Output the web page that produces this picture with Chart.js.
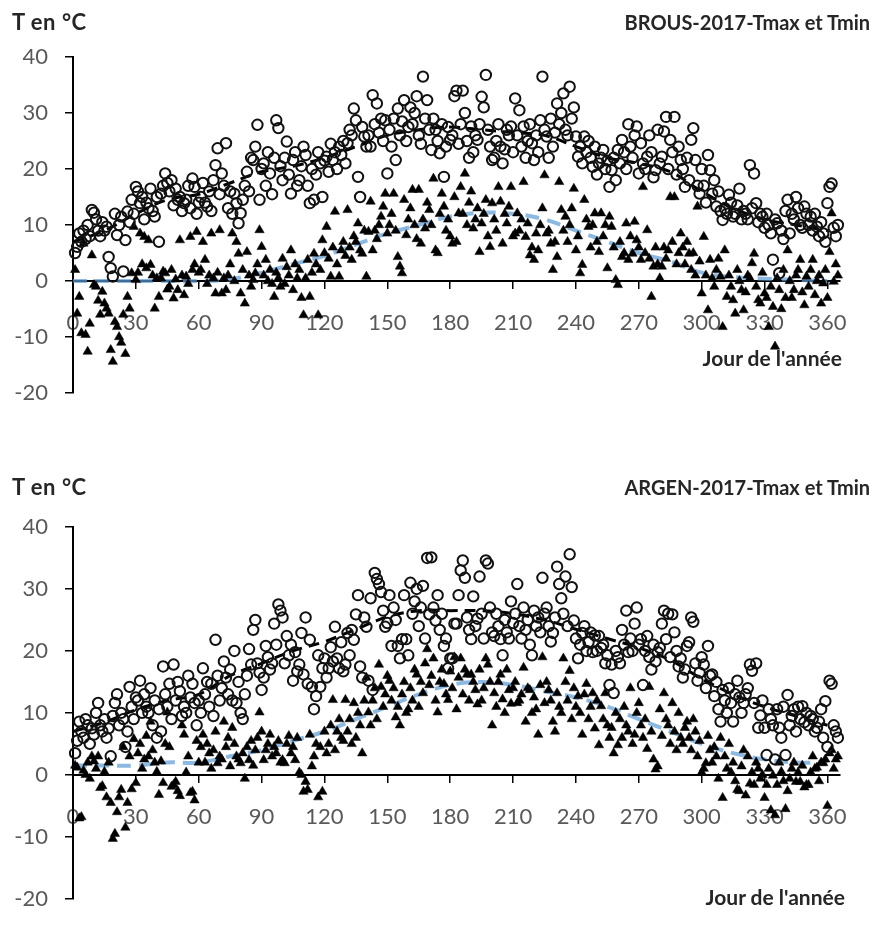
<!DOCTYPE html>
<html>
<head>
<meta charset="utf-8">
<script src="https://cdn.jsdelivr.net/npm/chart.js@4.4.1/dist/chart.umd.min.js"></script>
<style>
  body { margin: 0; background: #fff; }
  #page { position: relative; width: 879px; height: 929px; overflow: hidden; font-family: 'Lato', 'Open Sans', sans-serif; }
  canvas { position: absolute; left: 0; }
  .lbl { position: absolute; font-weight: bold; font-size: 20px; color: #262626; white-space: nowrap; line-height: 24px; }
  .unit { font-size: 22px; letter-spacing: 0.5px; }
  .xt { font-size: 21px; }
</style>
</head>
<body>
<div id="page">
  <canvas id="brous" width="879" height="440" style="top:0"></canvas>
  <canvas id="argen" width="879" height="459" style="top:470px"></canvas>

  <div class="lbl unit" style="left:12px; top:10px">T en °C</div>
  <div class="lbl" style="right:9px; top:10px">BROUS-2017-Tmax et Tmin</div>
  <div class="lbl xt" style="right:37px; top:346px">Jour de l'année</div>

  <div class="lbl unit" style="left:12px; top:475px">T en °C</div>
  <div class="lbl" style="right:9px; top:475px">ARGEN-2017-Tmax et Tmin</div>
  <div class="lbl xt" style="right:34px; top:885px">Jour de l'année</div>
</div>

<script>
// axis ticks
const xTicks = [0, 30, 60, 90, 120, 150, 180, 210, 240, 270, 300, 330, 360];
const yTicks = [-20, -10, 0, 10, 20, 30, 40];

// BROUS 2017, daily values (day 1..365)
const tmaxBrous = [
  5, 6.1, 8.5, 7, 9, 7.5, 10, 8, 12.7, 12.2,
  11, 9, 8, 10.5, 9, 9.7, 4.3, 2.3, 0.8, 12,
  8.2, 10, 11.5, 1.7, 7.3, 12.4, 10.5, 14.5, 12, 16.8,
  16, 13.9, 15, 11, 14, 13, 16.5, 12.5, 11.5, 15,
  7, 15.6, 17, 19.2, 17.5, 16, 18, 13.5, 16.5, 14.5,
  15, 12.5, 13.9, 14.5, 17, 13, 18.3, 16.8, 12, 14,
  15, 17.5, 14, 13.3, 16, 12.5, 18, 20.7, 23.7, 15.5,
  19.2, 17, 24.6, 13, 16, 12, 15.6, 13.9, 10.3, 12.1,
  14.5, 17, 19.5, 16, 22, 21.6, 24, 27.9, 14.5, 20,
  21, 17, 23, 19.2, 15.5, 22, 28.7, 27.3, 20.5, 18,
  22, 24.9, 19, 15.6, 21.6, 23, 17, 18, 20.5, 24,
  22.5, 17, 13.9, 20, 14.5, 19, 23, 21, 15, 21.5,
  22.2, 19.5, 24.5, 21.6, 23, 20, 24, 22.5, 25, 21,
  24.6, 27, 26, 30.8, 28.7, 18.6, 15, 27.5, 25.8, 24,
  26, 24, 33.2, 28, 31.7, 26.5, 29, 25, 28.7, 19.2,
  27, 24, 29, 21.6, 30.8, 26, 28.5, 32.3, 25, 27.5,
  31, 28, 30, 33, 26, 24.5, 36.5, 29, 32.3, 27,
  23.4, 29, 27, 25, 22.8, 28, 18.6, 24, 27.5, 25.2,
  26, 33, 34, 24.5, 28, 34, 30, 25, 22, 27.6,
  23, 26, 25.2, 28, 32.9, 31, 36.8, 27, 24, 21.6,
  22, 25, 28, 24, 21, 23.5, 27, 26, 27.6, 23,
  32.6, 26, 30.5, 24, 27.6, 22, 25, 28, 24.6, 21.6,
  26, 23, 28.7, 36.5, 27, 25.8, 22, 29, 24, 26.5,
  31.7, 28, 30, 33.5, 27, 26, 34.7, 29, 31, 25.8,
  22.2, 24, 21, 25.8, 23, 25, 22, 20.4, 24, 19,
  21, 22, 23.4, 20, 21.5, 16.8, 19.8, 22, 18, 23.4,
  21, 25.2, 23, 20, 28, 24, 22, 26, 27.6, 19.2,
  24.6, 21, 20, 22.2, 26, 23, 18.5, 19.8, 27, 21,
  22.2, 26.7, 29.3, 20, 25.2, 23, 29.3, 19, 24, 21.6,
  20, 16.8, 22, 18, 25.2, 27.3, 21.6, 17, 15.6, 20,
  17, 14, 22.5, 19.8, 15.6, 18, 13.3, 16, 12.5, 10.9,
  13, 12, 15.4, 14, 11.5, 12, 13.5, 16.5, 11, 12.5,
  12, 11, 20.7, 13, 19.2, 13.9, 10.5, 12, 11.5, 9.5,
  12, 10, 8.5, 3.8, 11, 10.3, 1.4, 9, 7.5, 12.5,
  14.5, 8.5, 12, 11, 15, 13, 10, 9.5, 13.3, 12,
  10, 11.5, 9, 12, 9.7, 8, 10.5, 8.5, 7, 13.9,
  16.8, 17.4, 9.5, 8, 10
];
const tminBrous = [
  2, -5.8, -2.8, -9.3, 6.7, -9.6, -12.6, -7.6, 4.6, -0.7,
  -1, -3.5, -6, -1.9, -4, -4.9, -5.8, -12.3, -14.4, -7.3,
  -8.2, -10, -11, -6, -13, -2.8, -4.9, 1.4, 9.7, 0.2,
  1.5, 8.5, 3, 7.9, 2.3, 7.3, 2.9, 1, -4.9, 0.5,
  -2.8, 0.5, 1.7, 1.4, -1.5, -1, 2, -3.1, 0.3, -1.6,
  7.3, 1, -2.5, 0.8, -0.5, 7.9, 2, 3, 8.8, 1.5,
  2, 7, 3.8, -0.5, 1, 8.5, 0.5, -2.2, 1.5, 9.1,
  -2.2, 0.5, -1.6, 1, 3, 8.5, 0, 7, 4.9, -2.2,
  2, -4, 5.2, 1, -1, 0.2, 1.4, 3, 9.1, 6.1,
  1, 3.8, 0, 2, -0.5, -2.8, 1.5, 0.5, -1, 4,
  -0.5, 2.5, 1, 5.5, -1.6, 3, 0.5, 2, -3, -6.1,
  0.5, 3.8, -2.8, 1.5, 4.9, 3, -6.1, 2, 7.3, 5,
  9.7, 4, 0.8, 6, 12.4, 3, 0.8, 5.5, 7, 4.5,
  12.7, 6, 3.8, 8, 7, 10.3, 5.5, 4.9, 9, 0.8,
  8.8, 14.2, 5.5, 9, 7.5, 10, 11.5, 13.3, 15.6, 8.5,
  10, 12, 15.6, 9, 4.3, 2.6, 1.4, 14.5, 8.2, 11,
  13, 16.3, 10, 7.5, 16.3, 6.7, 11, 9.4, 14, 12.7,
  10, 18.3, 5.5, 5, 12, 15.6, 13.3, 9, 11, 8,
  6.7, 15, 7, 12.1, 16.8, 12, 19.2, 10, 14, 16,
  9.4, 11, 13, 5.2, 10.3, 12, 14.5, 8, 6.1, 13.9,
  11, 9, 16.8, 14.2, 6.7, 12, 10.3, 13.3, 16.8, 8,
  8.5, 12.1, 9, 11, 17.7, 7.9, 10.3, 4.6, 6, 3.8,
  8.5, 5.5, 10, 13, 18.9, 8.5, 9, 6.7, 2, 7,
  4.3, 17.7, 12.7, 9, 11.5, 7, 10, 13, 16.5, 5.5,
  8, 1.4, 2.9, 14.5, 11, 9.7, 6, 10, 12.1, 7,
  5.2, 12.1, 8, 10, 2.3, 11.5, 9.7, 6, 0.2, -0.7,
  7, 4.3, 5, 10.3, 3.8, 8, 4.9, 10.6, 7.3, 6,
  3.8, 16.8, 5, 9.1, 4, -2.8, 2.6, 6, 3, 0.5,
  2.6, 6, 4, 5.5, 15, 7, 15, 3, 5, 8.5,
  6, 3, 7, 4.9, 2, 5, 1, 13.3, 3.5, -2.2,
  7.9, 1, -5.2, 3.8, 0.5, -1, 2, 4, 0.8, -8.2,
  5.5, -2.8, 1, -1, -3.4, -5.8, 2, 0, -1.6, -5.2,
  -2, 1, 0.5, 3.2, 4.9, -1, -3.4, -4, 1.5, -2.2,
  -3, -8.2, -1, -4.6, -11.7, 0.5, -1.6, -5, 2, -3,
  5.5, 0, -3, -1.6, 1, 2, 3.8, -2, -4.3, 0.8,
  -1, 2, 3.8, -2.5, 0, 1, -4, -0.4, 2, -3,
  5.2, 12.1, -0.1, 3, 1
];

// ARGEN 2017
const tmaxArgen = [
  3.5, 5.5, 8.6, 7, 6, 9, 8, 5, 7.5, 6.5,
  10, 11.6, 8, 7, 9, 6, 7.5, 3, 9.5, 11.6,
  13, 8, 10, 9, 4.5, 7, 14.2, 11, 9, 12.5,
  12, 15.2, 10, 13, 11, 10, 14, 8, 12, 6,
  10.6, 7, 17.5, 13, 11, 14.7, 9, 17.8, 12, 15,
  13.5, 9.5, 11, 10, 16, 12.5, 14.7, 11.6, 8, 12,
  10, 17.2, 13, 15, 11, 14.7, 9.5, 21.8, 16, 12,
  14, 18.3, 15.7, 13, 17, 12, 20, 11.6, 15, 10,
  9, 13, 16, 20.3, 17.8, 23.4, 25, 18, 16.5, 13.7,
  15.7, 20.8, 19, 17, 18, 24.4, 21, 27.5, 26.5, 25.4,
  18, 22.4, 19.3, 21, 15.2, 19.8, 16.7, 17.8, 22.9, 16.2,
  25.4, 14.7, 21.8, 14.2, 10.6, 12.7, 19.3, 14.2, 17.2, 18.8,
  15.7, 17.2, 20.6, 18.3, 23.9, 18.8, 17.2, 21.4, 16.7, 17.8,
  22.9, 19.3, 23.4, 21.8, 25.9, 29, 17.5, 15.7, 25.4, 23.9,
  15.2, 28.5, 13.7, 32.6, 31.6, 30.8, 29.5, 26.5, 23.9, 24.5,
  29, 20.8, 27, 25, 20.8, 18.8, 21.9, 29, 21.9, 19.3,
  31, 26, 28, 30, 24, 27, 30.5, 22, 35, 25.9,
  35.1, 27, 24.9, 29, 23.4, 26, 20.8, 22, 17.2, 18.8,
  18.8, 24.4, 24.4, 29, 33, 34.6, 31.8, 25.4, 23.4, 21.9,
  28.8, 24, 25.2, 32, 26, 22, 34.6, 34.1, 27, 23,
  22.4, 26, 24, 21.9, 19.3, 25, 23, 22, 28, 24.5,
  26, 30.8, 24, 22, 27, 23.4, 25, 21, 19.3, 26.5,
  24, 25.4, 23, 31.8, 26, 27, 24, 21.5, 22.9, 25.4,
  33.6, 30.8, 28.5, 26, 32, 24, 35.6, 30.3, 24.9, 22,
  18.8, 21, 22.9, 24, 20, 21.4, 23, 19.8, 22.5, 20,
  22.4, 20.5, 21, 18, 19.3, 14.5, 17.8, 13.2, 20, 19,
  18, 23.4, 21, 26.5, 19.8, 22, 20, 24.4, 27, 21,
  21.9, 14.5, 20, 22.4, 19, 17, 21, 18.3, 19.8, 20.5,
  24.4, 26.5, 21.9, 26, 19, 25.9, 23, 20, 17.5, 18.8,
  15.7, 17, 20.8, 21.4, 25.4, 24.7, 18, 15.2, 16.5, 19,
  17.8, 14, 20.8, 16, 16.2, 12.7, 15, 10.6, 8.6, 13.7,
  12, 10, 14, 11.6, 8.6, 13, 15.2, 12.5, 10, 11.6,
  13, 14, 17.8, 16.8, 11.6, 18, 7.6, 9.6, 12, 7.6,
  3.2, 10.6, 9, 8, 2.5, 10.6, 7.6, 6, 11, 3.2,
  12.9, 8, 9.5, 10.6, 7, 11, 9, 11.1, 8.5, 10,
  8, 9.5, 9, 7, 7.6, 8.6, 10.6, 6, 11.9, 4.5,
  15.2, 14.7, 8, 7, 6
];
const tminArgen = [
  1.5, 1.2, -7, -6.8, 0.7, 0, 2, -0.6, 3, 2.2,
  1, 3, -2.1, -1.8, 0.5, -3.6, 2, -4.5, -10.3, -9.5,
  -6, -3.6, -2.4, 4.5, -8.5, -4.5, 3, -2.3, 5.8, -1.3,
  3.5, 5, 1, 2.5, 6.3, 3, 8.6, 4, 2, 0.5,
  -3.2, 2.2, -1.3, 5, 10.1, 4.5, -1.9, -1.6, -1.1, -2.6,
  -3.4, 8, 6.5, 0.4, 3, -2.9, -2.7, -4.1, 5.5, 2,
  4.5, 6.5, 2, 5, 3.5, 1, 4, 7, 1.9, 3,
  2.5, 8.6, 4.5, 6, 1.4, 7.6, 5, 3, 2.5, 1.9,
  3.5, -0.6, 4.5, 2.4, 5.5, 1.5, 4, 6, 10.1, 7,
  2.4, 4, 5, 6.5, 3, 4.5, 3.5, 5.5, 2, 2.4,
  1.9, 5, 6.3, 3.5, 4.5, 2.4, 6, 0.4, 0, -2.7,
  -1.1, -2.4, 6.5, 1.4, 3, 5, -3.6, 4.5, -2.7, 7,
  3.5, 5, 8, 12.1, 4, 7, 9, 6, 5.5, 12.1,
  7, 9, 5, 11.6, 6, 10, 8, 3.5, 12, 15.7,
  10.1, 8, 12, 14, 9, 17.8, 14.2, 11, 13, 16,
  15.2, 12, 14, 9.3, 11, 8, 13, 15, 10, 10.6,
  14, 12, 17, 16.2, 11, 15, 13.2, 18, 20.3, 14.5,
  16, 18.8, 12, 10.1, 15, 17, 14.7, 13, 12.1, 16.7,
  14, 19, 10.6, 15.7, 18.8, 13, 17, 16.2, 12, 16.2,
  15, 13.7, 11.4, 17, 12, 14, 18.8, 17.8, 15, 8,
  13.2, 11, 15, 16.2, 12.2, 10, 17, 13.7, 11.5, 14,
  15, 11.6, 12, 13, 17.3, 8.6, 14, 13.7, 10, 12.5,
  10.6, 6.5, 14.5, 19, 11.6, 15, 13.7, 12, 8.6, 7,
  13.2, 11, 10, 18.8, 15, 12, 16.8, 9, 14, 11,
  12.7, 10, 6.5, 13, 14.7, 9, 11, 13.2, 7.5, 12,
  4.8, 11.1, 9, 13.2, 8, 6, 7.6, 3.5, 10, 4.8,
  9, 6, 11, 8, 7, 14, 5, 6.5, 10, 11.6,
  8, 6, 9, 4.2, 14.2, 7, 2.5, 0.9, 1.4, 10.6,
  6.3, 13.2, 9, 8, 5, 11.6, 7, 4, 10, 6,
  5, 7.6, 8.6, 6, 4, 9, 7, 3, 5.5, 0.4,
  1, 1.9, 6.3, 4, 2, 4.5, 3, -0.6, 6, -3.7,
  3, 1, 5, 0.4, 2, -1, -2.4, -2.6, 1.4, 4,
  -3.3, 3, -1.4, 0.4, -1.6, 2, 1, -0.6, 0, -3.7,
  -1.6, 1, -5.7, -0.1, -6.5, -1.6, 2, 0.5, -1, -5.5,
  -2.6, -0.6, 1, 2, -1.1, 0.4, -1.1, 1.5, -2, -1.6,
  -1.6, 0.4, 3, 1, 1.2, -1, 2, 1.9, 2.5, -5,
  3.5, 4, 1, 2.5, 3
];

// trend curves, read every 15 days
const trendDays = [0, 15, 30, 45, 60, 75, 90, 105, 120, 135, 150, 165, 180, 195, 210, 225, 240, 255, 270, 285, 300, 315, 330, 345, 360];
const brousTmaxTrend = [7, 9, 12, 14.5, 15.5, 17.5, 19.5, 20.5, 22, 24, 26, 27, 27.5, 27, 26.5, 26, 24, 22, 21, 19.5, 16, 13, 11, 10, 9];
const brousTminTrend = [0, 0, 0, 0, 0, 0.3, 1.5, 3, 4.5, 6.5, 8.5, 10, 11.5, 12.2, 12, 11, 9, 7, 5, 3.5, 1.5, 0.7, 0.4, 0.2, 0];
const argenTmaxTrend = [7, 8.5, 10.5, 12, 13, 16, 18, 20, 21.5, 23.5, 25.5, 26.5, 26.5, 26.5, 26, 25, 23.5, 22, 20.5, 18.5, 15.5, 13, 11, 9.5, 8];
const argenTminTrend = [1.5, 1.5, 1.5, 2, 2, 3, 4, 5.5, 7, 9, 11, 13, 14.5, 15, 14.5, 13.5, 12.5, 11, 9, 7, 5, 3.5, 2.5, 2, 2];

const tickFont = { family: 'Lato', size: 22 };
const tickColor = '#595959';

function daily(values) {
  return values.map((t, i) => ({ x: i + 1, y: t }));
}
function curve(values) {
  return values.map((t, i) => ({ x: trendDays[i], y: t }));
}

function makeChart(id, tmax, tmin, maxTrend, minTrend, padTop, padBottom) {
  return new Chart(document.getElementById(id), {
    type: 'scatter',
    data: {
      datasets: [
        {
          label: 'Tmax',
          data: daily(tmax),
          pointStyle: 'circle',
          pointRadius: 5.2,
          borderWidth: 2,
          borderColor: '#111',
          backgroundColor: 'rgba(0,0,0,0)',
          clip: false,
          order: 1
        },
        {
          label: 'Tmin',
          data: daily(tmin),
          pointStyle: 'triangle',
          pointRadius: 5.4,
          borderWidth: 0.5,
          borderColor: '#000',
          backgroundColor: '#000',
          clip: false,
          order: 2
        },
        {
          label: 'Tmax tendance',
          data: curve(maxTrend),
          showLine: true,
          pointRadius: 0,
          borderColor: '#000',
          borderWidth: 3,
          borderDash: [11, 7],
          tension: 0.4,
          order: 3
        },
        {
          label: 'Tmin tendance',
          data: curve(minTrend),
          showLine: true,
          pointRadius: 0,
          borderColor: 'rgba(91,155,213,0.7)',
          borderWidth: 4,
          borderDash: [14, 8],
          tension: 0.4,
          order: 4
        }
      ]
    },
    options: {
      responsive: false,
      animation: false,
      devicePixelRatio: 1,
      layout: { padding: { top: padTop, bottom: padBottom, left: 13, right: 39 } },
      plugins: { legend: { display: false }, tooltip: { enabled: false } },
      scales: {
        x: {
          type: 'linear',
          position: { y: 0 },
          min: 0,
          max: 366,
          afterBuildTicks: s => { s.ticks = xTicks.map(v => ({ value: v })); },
          ticks: { font: tickFont, color: tickColor, padding: 22, maxRotation: 0, autoSkip: false },
          grid: { drawOnChartArea: false, color: '#000', tickLength: 7, lineWidth: 1.5 },
          border: { color: '#000', width: 2 }
        },
        y: {
          min: -20,
          max: 40,
          afterBuildTicks: s => { s.ticks = yTicks.map(v => ({ value: v })); },
          afterFit: s => { s.width = 60; },
          ticks: { font: tickFont, color: tickColor, padding: 17 },
          grid: { drawOnChartArea: false, color: '#000', tickLength: 8, lineWidth: 1.5 },
          border: { color: '#000', width: 2 }
        }
      }
    }
  });
}

makeChart('brous', tmaxBrous, tminBrous, brousTmaxTrend, brousTminTrend, 57, 47);
makeChart('argen', tmaxArgen, tminArgen, argenTmaxTrend, argenTminTrend, 57, 15);
</script>
</body>
</html>
